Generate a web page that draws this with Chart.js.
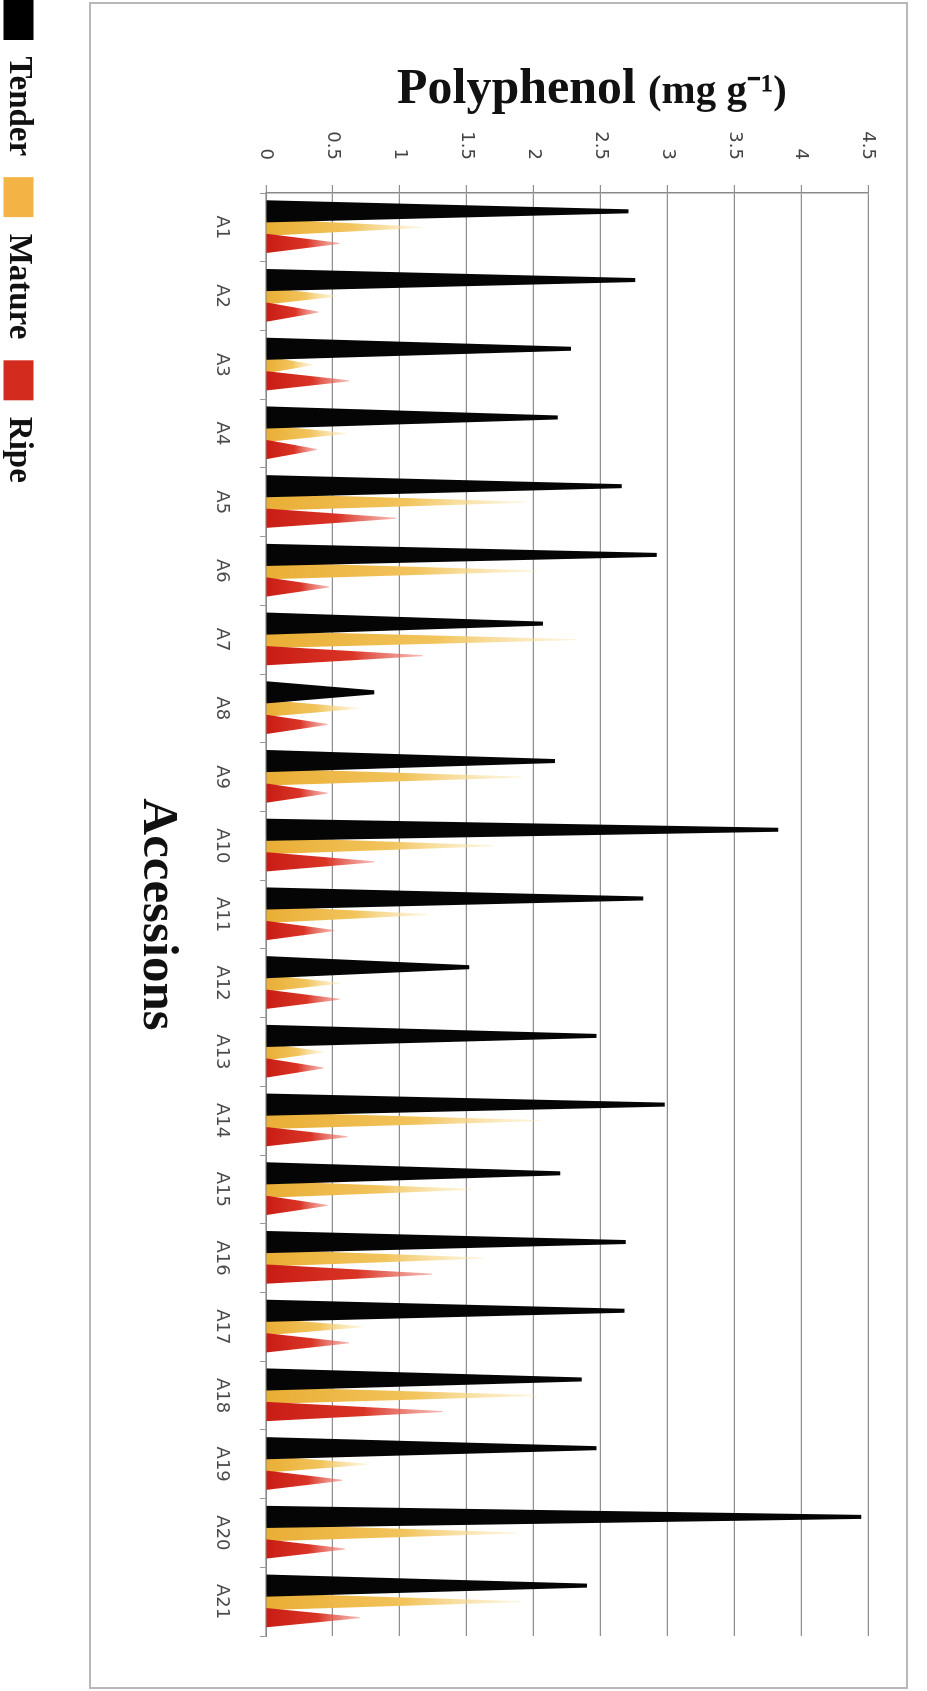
<!DOCTYPE html>
<html>
<head>
<meta charset="utf-8">
<script src="https://cdn.jsdelivr.net/npm/chart.js@4.4.1/dist/chart.umd.min.js"></script>
<style>
  html, body { margin: 0; padding: 0; background: #ffffff; overflow: hidden; width: 927px; height: 1691px; }
  #wrap { position: absolute; left: 0; top: 0; width: 1712px; height: 935px;
          transform-origin: 0 0; transform: translate(927px, -21px) rotate(90deg); }
  canvas { display: block; }
</style>
</head>
<body>
<div id="wrap"><canvas id="c" width="1712" height="935"></canvas></div>
<script>
// ---- data ----
const categories = ['A1','A2','A3','A4','A5','A6','A7','A8','A9','A10','A11','A12','A13','A14','A15','A16','A17','A18','A19','A20','A21'];
const tender = [2.71, 2.76, 2.28, 2.18, 2.66, 2.92, 2.07, 0.81, 2.16, 3.83, 2.82, 1.52, 2.47, 2.98, 2.20, 2.69, 2.68, 2.36, 2.47, 4.45, 2.40];
const mature = [1.17, 0.53, 0.35, 0.60, 1.94, 2.03, 2.32, 0.69, 1.91, 1.70, 1.21, 0.55, 0.43, 2.05, 1.54, 1.63, 0.72, 2.03, 0.76, 1.88, 1.91];
const ripe   = [0.55, 0.39, 0.62, 0.38, 0.97, 0.47, 1.17, 0.46, 0.46, 0.81, 0.51, 0.55, 0.43, 0.61, 0.46, 1.24, 0.62, 1.32, 0.57, 0.59, 0.70];
const seriesNames = ['Tender', 'Mature', 'Ripe'];
const valueTicks = [0, 0.5, 1, 1.5, 2, 2.5, 3, 3.5, 4, 4.5];
const valueTickLabels = ['0', '0.5', '1', '1.5', '2', '2.5', '3', '3.5', '4', '4.5'];
const valueTitle = 'Polyphenol';
const valueUnit = '(mg g\u207B\u00B9)';
const categoryTitle = 'Accessions';

// ---- plugins ----
const framePlugin = {
  id: 'frame',
  beforeDraw(chart) {
    const ctx = chart.ctx;
    ctx.save();
    ctx.fillStyle = '#ffffff';
    ctx.fillRect(0, 0, chart.width, chart.height);
    ctx.strokeStyle = '#b8b8b8';
    ctx.lineWidth = 2;
    ctx.strokeRect(24, 20, 1685, 817);
    ctx.restore();
  }
};

const conePlugin = {
  id: 'cones',
  beforeDatasetsDraw(chart) {
    const ctx = chart.ctx;
    [1, 0, 2].forEach(di => {
      const meta = chart.getDatasetMeta(di);
      const ds = chart.data.datasets[di];
      meta.data.forEach(el => {
        const x = el.x, y = el.y, base = el.base, half = el.width / 2;
        const tipHalf = ds.tipWidth / 2;
        let fill = ds.baseColor;
        if (ds.fade) {
          const g = ctx.createLinearGradient(0, base, 0, y);
          g.addColorStop(0, ds.baseColor);
          g.addColorStop(0.55, ds.midColor);
          g.addColorStop(1, ds.tipColor);
          fill = g;
        }
        ctx.save();
        ctx.fillStyle = fill;
        ctx.beginPath();
        ctx.moveTo(x - half, base);
        ctx.lineTo(x - tipHalf, y);
        ctx.lineTo(x + tipHalf, y);
        ctx.lineTo(x + half, base);
        ctx.closePath();
        ctx.fill();
        ctx.restore();
      });
    });
    return false;
  }
};

const valueTitlePlugin = {
  id: 'valueTitle',
  afterDraw(chart) {
    const ctx = chart.ctx;
    const f1 = 'bold 50px "Liberation Serif"';
    const f2 = 'bold 41px "Liberation Serif"';
    ctx.save();
    ctx.font = f1; const w1 = ctx.measureText(valueTitle).width;
    ctx.font = f2; const w2 = ctx.measureText(valueUnit).width;
    const gap = 12;
    const total = w1 + gap + w2;
    ctx.translate(124, 335);
    ctx.rotate(-Math.PI / 2);
    ctx.fillStyle = '#111111';
    ctx.textBaseline = 'alphabetic';
    ctx.textAlign = 'left';
    ctx.font = f1; ctx.fillText(valueTitle, -total / 2, 0);
    ctx.font = f2; ctx.fillText(valueUnit, -total / 2 + w1 + gap, 0);
    ctx.restore();
  }
};

new Chart(document.getElementById('c'), {
  type: 'bar',
  data: {
    labels: categories,
    datasets: [
      { label: seriesNames[0], data: tender, backgroundColor: '#000000', borderWidth: 0,
        barPercentage: 1.38, tipWidth: 4, baseColor: '#050505' },
      { label: seriesNames[1], data: mature, backgroundColor: '#F4B445', borderWidth: 0,
        barPercentage: 1.05, tipWidth: 1, fade: true,
        baseColor: '#E9AE35', midColor: '#F2C45C', tipColor: 'rgba(250,228,165,0.35)' },
      { label: seriesNames[2], data: ripe, backgroundColor: '#D42B1F', borderWidth: 0,
        barPercentage: 1.2, tipWidth: 1, fade: true,
        baseColor: '#C81D15', midColor: '#DA3426', tipColor: 'rgba(238,130,118,0.55)' }
    ]
  },
  options: {
    responsive: false,
    animation: false,
    devicePixelRatio: 1,
    layout: { padding: { top: 59, right: 55, left: 0, bottom: 0 } },
    datasets: { bar: { categoryPercentage: 0.70 } },
    plugins: {
      legend: {
        position: 'bottom', align: 'start',
        labels: { boxWidth: 40, boxHeight: 30, padding: 21, color: '#111111',
                  font: { family: '"Liberation Serif"', size: 33, weight: 'bold' } }
      },
      tooltip: { enabled: false },
      title: { display: false }
    },
    scales: {
      x: {
        grid: { display: true, drawOnChartArea: false, drawTicks: true, tickLength: 6, color: '#9a9a9a', offset: true },
        border: { display: true, color: '#8a8a8a', width: 1.5 },
        ticks: { color: '#4a4a4a', font: { family: '"DejaVu Sans"', size: 18 }, padding: 28, maxRotation: 0, autoSkip: false },
        title: { display: true, text: categoryTitle, color: '#111111',
                 font: { family: '"Liberation Serif"', size: 51, weight: 'bold' },
                 padding: { top: 0, bottom: 71 } },
        afterFit(s) { s.height = 210; }
      },
      y: {
        min: 0, max: 4.5,
        afterBuildTicks(s) { s.ticks = valueTicks.map(v => ({ value: v })); },
        ticks: { color: '#444444', font: { family: '"DejaVu Sans"', size: 18 }, padding: 25,
                 callback: (v, i) => valueTickLabels[i] },
        grid: { color: '#8f8f8f', lineWidth: 1.2, tickLength: 8, drawTicks: true },
        border: { color: '#8a8a8a', width: 1.5 },
        afterFit(s) { s.width = 214; }
      }
    }
  },
  plugins: [framePlugin, conePlugin, valueTitlePlugin]
});
</script>
</body>
</html>
